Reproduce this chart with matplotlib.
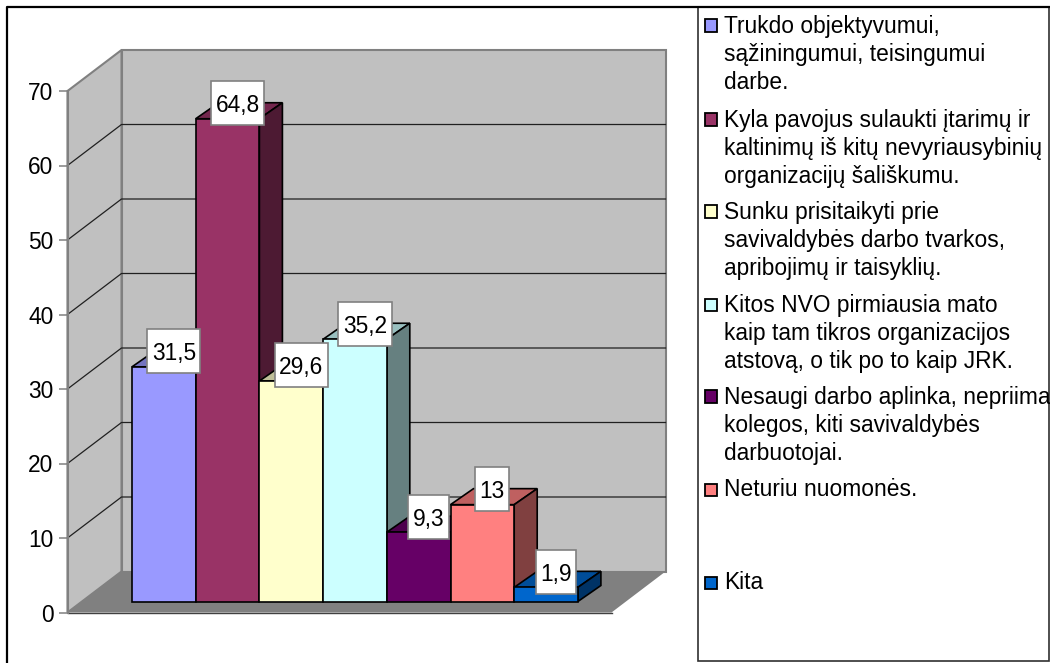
import matplotlib
matplotlib.use("Agg")
import matplotlib.pyplot as plt
from matplotlib.patches import Rectangle
from matplotlib.lines import Line2D
from matplotlib.colors import to_rgb

plt.rcParams['font.family'] = ['Liberation Sans', 'DejaVu Sans']

labels = [
    "Trukdo objektyvumui,\nsąžiningumui, teisingumui\ndarbe.",
    "Kyla pavojus sulaukti įtarimų ir\nkaltinimų iš kitų nevyriausybinių\norganizacijų šališkumu.",
    "Sunku prisitaikyti prie\nsavivaldybės darbo tvarkos,\napribojimų ir taisyklių.",
    "Kitos NVO pirmiausia mato\nkaip tam tikros organizacijos\natstovą, o tik po to kaip JRK.",
    "Nesaugi darbo aplinka, nepriima\nkolegos, kiti savivaldybės\ndarbuotojai.",
    "Neturiu nuomonės.",
    "Kita",
]
values = [31.5, 64.8, 29.6, 35.2, 9.3, 13, 1.9]
value_labels = ["31,5", "64,8", "29,6", "35,2", "9,3", "13", "1,9"]
colors = ["#9999FF", "#993366", "#FFFFCC", "#CCFFFF", "#660066", "#FF8080", "#0066CC"]
yticks = [0, 10, 20, 30, 40, 50, 60, 70]
legend_baselines = [32, 126, 218, 311, 403, 496, 589]

W, H = 1050, 663
FS = 16.4
LINE_STEP = 28.3

fig = plt.figure(figsize=(W / 100, H / 100), dpi=100, facecolor="white")
ax = fig.add_axes([0, 0, 1, 1])

# pixel scale of the front plane
X0, Y0 = 67.5, 612.5
PX = 63.7                       # px per category
PY = 521.5 / 70                 # px per value unit
ax.set_xlim(-X0 / PX, (W - X0) / PX)
ax.set_ylim(-(H - Y0) / PY, Y0 / PY)
ax.patch.set_visible(False)


def dx(p):
    return p / PX


def dy(p):
    return p / PY


n = len(values)
floor_w = dx(544)
ymax = yticks[-1]
wx, wy = dx(54), dy(41)   # depth of the chart box
wall = "#C0C0C0"
edge = "#808080"

# back wall, side wall, floor
ax.fill([wx, floor_w + wx, floor_w + wx, wx], [wy, wy, ymax + wy, ymax + wy], fc=wall, ec=edge, lw=1.5, zorder=1)
ax.fill([0, wx, wx, 0], [0, wy, ymax + wy, ymax], fc=wall, ec=edge, lw=1.5, zorder=1)
ax.fill([0, floor_w, floor_w + wx, wx], [0, 0, wy, wy], fc=edge, ec="none", zorder=1.5)
ax.plot([0, floor_w], [0, 0], color="#404040", lw=1, zorder=1.6)

# grid lines
for t in yticks[1:-1]:
    ax.plot([0, wx, floor_w + wx], [t, t + wy, t + wy], color="#202020", lw=0.9, zorder=1.4)

# bars
bar_x = dx(64.5)
bar_y = dy(11)
bar_w = 1.0
ddx, ddy = dx(23), dy(16)
xs = [i + 0.5 + bar_x for i in range(n)]
for i, (x, v, c) in enumerate(zip(xs, values, colors)):
    base = to_rgb(c)
    z = 2 + i
    l, r = x - bar_w / 2, x + bar_w / 2
    top, bot = bar_y + v, bar_y
    ax.fill([l, r, r + ddx, l + ddx], [top, top, top + ddy, top + ddy],
            fc=tuple(k * 0.75 for k in base), ec="black", lw=1.2, zorder=z)
    ax.fill([r, r + ddx, r + ddx, r], [bot, bot + ddy, top + ddy, top],
            fc=tuple(k * 0.5 for k in base), ec="black", lw=1.2, zorder=z)
    ax.bar(x, v, width=bar_w, bottom=bar_y, color=c, edgecolor="black", linewidth=1.2, zorder=z + 0.5)

# value label boxes
renderer = fig.canvas.get_renderer()
for x, v, s in zip(xs, values, value_labels):
    cx = x + dx(10)
    cy = bar_y + v + dy(15.5)
    t = ax.text(cx, cy, s, fontsize=FS, ha="center", va="center_baseline", color="black", zorder=21)
    w_px = t.get_window_extent(renderer).width + 9
    ax.add_patch(Rectangle((cx - dx(w_px / 2), cy - dy(22)), dx(w_px), dy(44),
                           fc="white", ec="#808080", lw=1.2, zorder=20))

# real value axis at the front-left corner
ax.set_yticks(yticks)
ax.set_xticks([])
ax.spines["left"].set_position(("data", 0))
ax.spines["left"].set_bounds(0, ymax)
ax.spines["left"].set_color(edge)
ax.spines["left"].set_linewidth(1.5)
ax.spines["left"].set_zorder(1.8)
for s in ("top", "right", "bottom"):
    ax.spines[s].set_visible(False)
ax.tick_params(axis="y", length=6.5, width=1.1, color=edge, pad=3.5, labelsize=FS, labelcolor="black")


def fx(p):
    return p / W


def fy(p):
    return 1 - p / H


# legend box and outer frame
LX, LR, LT, LB = 697.5, 1049, 7, 661
fig.add_artist(Rectangle((fx(LX), fy(LB)), fx(LR - LX), fy(LT) - fy(LB), transform=fig.transFigure,
                         fc="white", ec="#303030", lw=1.2, zorder=5))
fig.add_artist(Line2D([fx(7), fx(7), fx(W)], [0, fy(7), fy(7)], transform=fig.transFigure,
                      color="black", lw=1.6, zorder=6))

for lab, c, b in zip(labels, colors, legend_baselines):
    fig.add_artist(Rectangle((fx(704.5), fy(b)), fx(12.5), 12.5 / H, transform=fig.transFigure,
                             fc=c, ec="black", lw=1.3, zorder=7))
    # the baseline anchor of a multi-line text is its last line
    last = b + LINE_STEP * lab.count("\n")
    fig.text(fx(724), fy(last), lab, fontsize=FS, ha="left", va="baseline", linespacing=1.28,
             color="black", zorder=7)

fig.savefig("out.png", dpi=100)
